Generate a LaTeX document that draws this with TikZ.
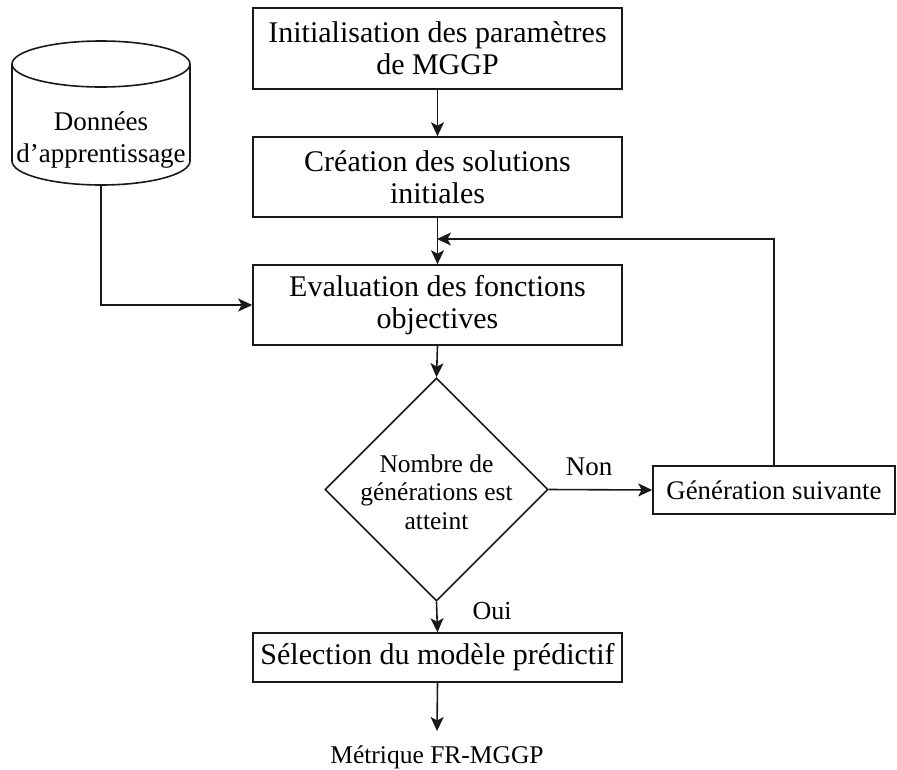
\documentclass[tikz,border=0pt]{standalone}
\usepackage{fontspec}
\setmainfont{Liberation Serif}
\usetikzlibrary{shapes.geometric,arrows.meta}

\tikzset{
  line/.style={line width=1.6pt, draw=black!90},
  arr/.style={line, -{Stealth[length=14pt,width=13pt,inset=3.5pt]}},
  procbox/.style={draw=black!90, line width=1.6pt, rectangle, inner sep=0pt,
    align=center, font=\fontsize{30}{32}\selectfont},
  smallbox/.style={procbox, font=\fontsize{26.8}{30}\selectfont},
  plain/.style={inner sep=0pt, align=center, font=\fontsize{25.5}{28.5}\selectfont},
  decision/.style={draw=black!90, line width=1.6pt, diamond, aspect=1, inner sep=0pt,
    minimum width=223pt, minimum height=223pt},
}

\begin{document}
\begin{tikzpicture}[x=1pt,y=-1pt]
\useasboundingbox (0,0) rectangle (897,769);

% main chain of steps
\node[procbox, minimum width=369pt, minimum height=81pt] (init) at (437.5,48.5)
  {Initialisation des paramètres\\de MGGP};
\node[procbox, minimum width=369pt, minimum height=80pt] (create) at (437.5,177)
  {Création des solutions\\initiales};
\node[procbox, minimum width=369pt, minimum height=80pt] (eval) at (437.5,305)
  {Evaluation des fonctions\\objectives};
\node[decision] (test) at (436.5,489.5) {};
\node[plain] (testtext) at (436.5,492) {Nombre de\\générations est\\atteint};
\node[procbox, minimum width=369pt, minimum height=49pt] (select) at (437.5,657.5)
  {Sélection du modèle prédictif};
\node[plain, font=\fontsize{25.5}{28}\selectfont] (metric) at (437,757) {Métrique FR-MGGP};
\coordinate (metrictop) at (437,731);

% loop-back step
\node[smallbox, minimum width=242pt, minimum height=48pt] (next) at (774,490)
  {Génération suivante};
\coordinate (loopin) at (437,239);

% training data store
\node[plain, font=\fontsize{27}{32}\selectfont, minimum width=178pt, minimum height=90pt]
  (data) at (101,140) {Données\\d’apprentissage};
\draw[line] (101,64) ellipse [x radius=89pt, y radius=23pt];
\draw[line] (12,64) -- (12,161)
  arc[start angle=180, end angle=360, x radius=89pt, y radius=24pt] -- (190,64);

% connectors
\draw[arr] (init.south) -- (create.north);
\draw[arr] (create.south) -- (eval.north);
\draw[arr] (eval.south) -- (test.north);
\draw[arr] (test.south) -- (select.north);
\draw[arr] (select.south) -- (metrictop);
\draw[arr] (test.east) -- (next.west);
\draw[arr] (next.north) |- (loopin);
\draw[arr] (data.south) |- (eval.west);

% branch labels
\node[plain, font=\fontsize{27}{30}\selectfont] (non) at (589,467) {Non};
\node[plain, font=\fontsize{26}{30}\selectfont] (oui) at (492,611) {Oui};
\end{tikzpicture}
\end{document}
